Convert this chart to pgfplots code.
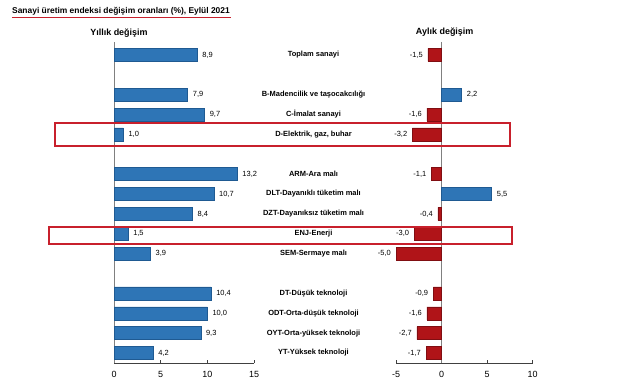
\documentclass[border=0pt]{standalone}
\usepackage{pgfplots}
\pgfplotsset{compat=1.18}
\usepackage{fontspec}
\setmainfont{Liberation Sans}
\definecolor{barblue}{HTML}{2E75B6}
\definecolor{barblueedge}{HTML}{1F5A92}
\definecolor{barred}{HTML}{B01418}
\definecolor{barrededge}{HTML}{800E12}
\definecolor{boxred}{HTML}{C8202C}
\definecolor{axgray}{HTML}{808080}
\definecolor{axdark}{HTML}{404040}

\pgfplotstableread{
y v
0 8.9
-2 7.9
-3 9.7
-4 1.0
-6 13.2
-7 10.7
-8 8.4
-9 1.5
-10 3.9
-12 10.4
-13 10.0
-14 9.3
-15 4.2
}\yillik

\pgfplotstableread{
y v
-2 2.2
-7 5.5
}\aylikpos

\pgfplotstableread{
y v
0 -1.5
-3 -1.6
-4 -3.2
-6 -1.1
-8 -0.4
-9 -3.0
-10 -5.0
-12 -0.9
-13 -1.6
-14 -2.7
-15 -1.7
}\aylikneg

\pgfplotsset{
  commonstyle/.style={
    scale only axis, height=321bp,
    xbar, bar width=13bp,
    ymin=-15.5, ymax=0.65,
    enlargelimits=false, clip=false,
    axis x line=bottom,
    x axis line style={-, draw=axdark, line width=0.6bp},
    xtick align=inside, major tick length=3bp,
    x tick style={draw=axdark, line width=0.6bp},
    xticklabel style={font=\fontsize{9}{10}\selectfont, yshift=-4.5bp},
    /pgf/number format/assume math mode=true,
    point meta=x,
    nodes near coords={\pgfmathprintnumber[fixed,fixed zerofill,precision=1,use comma,assume math mode=true]{\pgfplotspointmeta}},
  },
}

\begin{document}
\begin{tikzpicture}[x=1bp,y=1bp]
\path[use as bounding box] (0,0) rectangle (641,380);

% title
\node[anchor=west, font=\bfseries\fontsize{8.45}{9}\selectfont, inner sep=0pt] at (12,369) {Sanayi üretim endeksi değişim oranları (\%), Eylül 2021};
\draw[boxred, line width=0.8bp] (12,363) -- (231,363);

\node[font=\bfseries\fontsize{9}{10}\selectfont] at (119,347) {Yıllık değişim};
\node[font=\bfseries\fontsize{9}{10}\selectfont] at (444.7,348.3) {Aylık değişim};

% left axis
\begin{axis}[commonstyle,
  at={(114bp,17bp)}, anchor=south west, width=140bp,
  xmin=0, xmax=15, xtick={0,5,10,15},
  axis y line=left, y axis line style={-, draw=axgray, line width=0.6bp},
  ytick={-15,-14,-13,-12,-10,-9,-8,-7,-6,-4,-3,-2,0},
  yticklabels={YT-Yüksek teknoloji, OYT-Orta-yüksek teknoloji, ODT-Orta-düşük teknoloji, DT-Düşük teknoloji,
    SEM-Sermaye malı, ENJ-Enerji, DZT-Dayanıksız tüketim malı, DLT-Dayanıklı tüketim malı, ARM-Ara malı,
    D-Elektrik{,} gaz{,} buhar, C-İmalat sanayi, B-Madencilik ve taşocakcılığı, Toplam sanayi},
  y tick style={draw=none},
  yticklabel style={anchor=center, xshift=201bp, font=\bfseries\fontsize{7.5}{9}\selectfont},
  every node near coord/.append style={anchor=west, inner sep=0pt, xshift=5bp, font=\fontsize{7.5}{9}\selectfont, text=black},
]
\addplot[fill=barblue, draw=barblueedge, line width=0.5bp] table[x=v, y=y] {\yillik};
\end{axis}

% right axis
\begin{axis}[commonstyle,
  at={(396bp,17bp)}, anchor=south west, width=136.7bp,
  xmin=-5, xmax=10, xtick={-5,0,5,10},
  axis y line=none, ytick=\empty,
]
\draw[axgray, line width=0.6bp] (axis cs:0,0.65) -- (axis cs:0,-15.5);
\addplot[fill=barred, draw=barrededge, line width=0.5bp, bar shift=0pt,
  every node near coord/.append style={anchor=east, inner sep=0pt, xshift=-5bp, font=\fontsize{7.5}{9}\selectfont, text=black}]
  table[x=v, y=y] {\aylikneg};
\addplot[fill=barblue, draw=barblueedge, line width=0.5bp, bar shift=0pt,
  every node near coord/.append style={anchor=west, inner sep=0pt, xshift=5bp, font=\fontsize{7.5}{9}\selectfont, text=black}]
  table[x=v, y=y] {\aylikpos};
\end{axis}

% highlight boxes
\draw[boxred, line width=2.2bp] (55,257) rectangle (510,234);
\draw[boxred, line width=2.2bp] (49,153.3) rectangle (512,136);
\end{tikzpicture}
\end{document}
